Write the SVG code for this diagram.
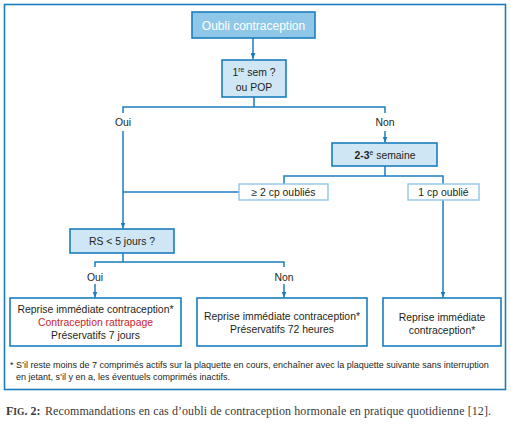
<svg xmlns="http://www.w3.org/2000/svg" width="511" height="426" viewBox="0 0 511 426">
<style>
.t{font-family:"Liberation Sans","Open Sans",Arial,sans-serif;font-size:10.4px;fill:#231f20;text-anchor:middle}
.fn{font-family:"Liberation Sans","Open Sans",Arial,sans-serif;font-size:9px;fill:#231f20}
.cap{font-family:"Liberation Serif","DejaVu Serif",serif;font-size:12px;fill:#3a3a3a}
.dark{fill:#8fc7e8;stroke:#1b7dbd;stroke-width:1.6}
.light{fill:#cfe6f5;stroke:#1b7dbd;stroke-width:1.6}
.pale{fill:#ffffff;stroke:#8fc7e8;stroke-width:1.4}
.res{fill:#ffffff;stroke:#1b7dbd;stroke-width:1.6}
.c{fill:none;stroke:#1b7dbd;stroke-width:1.5}
</style>
<defs>
<marker id="ar" viewBox="0 0 6 5" refX="6" refY="2.5" markerWidth="6" markerHeight="5" markerUnits="userSpaceOnUse" orient="auto">
<path d="M0,0 L6,2.5 L0,5 Z" fill="#1b7dbd"/>
</marker>
</defs>
<rect x="4.5" y="4.5" width="501" height="385" fill="#ffffff" stroke="#1b7dbd" stroke-width="1.6"/>
<g id="connectors">
<path class="c" d="M253,38 V59" marker-end="url(#ar)"/>
<path class="c" d="M254,97 V107 M123,113 V107 H385 V113"/>
<path class="c" d="M385,131 V142.5" marker-end="url(#ar)"/>
<path class="c" d="M123,131 V228.5" marker-end="url(#ar)"/>
<path class="c" d="M385,166 V176 M284,184 V176 H443 V184"/>
<path class="c" d="M239,192 H123"/>
<path class="c" d="M443,200 V297.5" marker-end="url(#ar)"/>
<path class="c" d="M123,253 V262 M95,267 V262 H284 V267"/>
<path class="c" d="M95,284 V297.5" marker-end="url(#ar)"/>
<path class="c" d="M284,284 V297.5" marker-end="url(#ar)"/>
</g>
<g id="n-oubli">
<rect class="dark" x="192" y="12" width="123" height="26"/>
<text class="t" x="253.5" y="29.5" style="fill:#ffffff;font-size:12px">Oubli contraception</text>
</g>
<g id="n-sem1">
<rect class="light" x="222" y="60" width="64" height="37"/>
<text class="t" x="254" y="75.5">1<tspan font-size="6.8" dy="-3.5">re</tspan><tspan dy="3.5"> sem ?</tspan></text>
<text class="t" x="254" y="91">ou POP</text>
</g>
<g id="l-oui1"><text class="t" x="123" y="126">Oui</text></g>
<g id="l-non1"><text class="t" x="385" y="126">Non</text></g>
<g id="n-sem23">
<rect class="light" x="332" y="143" width="105" height="23"/>
<text class="t" x="385" y="158.5"><tspan font-weight="bold">2-3</tspan><tspan font-size="6.8" dy="-3.5">e</tspan><tspan dy="3.5"> semaine</tspan></text>
</g>
<g id="n-2cp">
<rect class="pale" x="239" y="184" width="89" height="16"/>
<text class="t" x="283.5" y="195.8">≥ 2 cp oubliés</text>
</g>
<g id="n-1cp">
<rect class="pale" x="408" y="184" width="71" height="16"/>
<text class="t" x="443.5" y="195.8">1 cp oublié</text>
</g>
<g id="n-rs">
<rect class="light" x="70" y="229" width="104" height="24"/>
<text class="t" x="122" y="244.8">RS &lt; 5 jours ?</text>
</g>
<g id="l-oui2"><text class="t" x="95" y="281">Oui</text></g>
<g id="l-non2"><text class="t" x="284" y="281">Non</text></g>
<g id="n-res1">
<rect class="res" x="10" y="298" width="171" height="48"/>
<text class="t" x="95.5" y="312.5">Reprise immédiate contraception*</text>
<text class="t" x="95.5" y="325.5" style="fill:#c8262c">Contraception rattrapage</text>
<text class="t" x="95.5" y="338.5">Préservatifs 7 jours</text>
</g>
<g id="n-res2">
<rect class="res" x="197" y="298" width="170" height="48"/>
<text class="t" x="282" y="319.5">Reprise immédiate contraception*</text>
<text class="t" x="282" y="332.5">Préservatifs 72 heures</text>
</g>
<g id="n-res3">
<rect class="res" x="383" y="298" width="118" height="48"/>
<text class="t" x="442" y="320.5">Reprise immédiate</text>
<text class="t" x="442" y="334">contraception*</text>
</g>
<g id="footnote">
<text class="fn" x="10" y="368">* S’il reste moins de 7 comprimés actifs sur la plaquette en cours, enchaîner avec la plaquette suivante sans interruption</text>
<text class="fn" x="16" y="379.5">en jetant, s’il y en a, les éventuels comprimés inactifs.</text>
</g>
<g id="caption">
<text class="cap" x="6" y="415" font-weight="bold" fill="#333">F<tspan font-size="9.5">IG</tspan>. 2:</text>
<text class="cap" x="45" y="415" textLength="446" lengthAdjust="spacing">Recommandations en cas d’oubli de contraception hormonale en pratique quotidienne [12].</text>
</g>
</svg>
